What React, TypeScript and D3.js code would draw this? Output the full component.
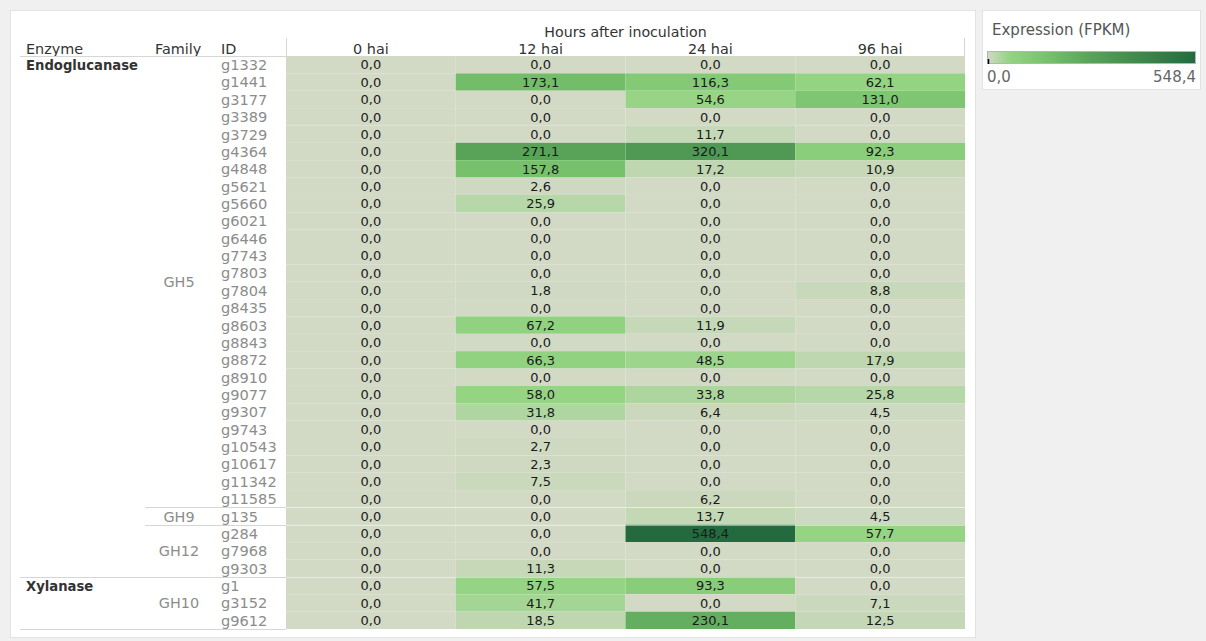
import React from "react";
import * as d3 from "d3";

// Expression table: enzymes → families → gene IDs, FPKM per time point
const timePoints = ["0 hai", "12 hai", "24 hai", "96 hai"];

const geneIds = [
  "g1332", "g1441", "g3177", "g3389", "g3729", "g4364", "g4848", "g5621", "g5660",
  "g6021", "g6446", "g7743", "g7803", "g7804", "g8435", "g8603", "g8843", "g8872",
  "g8910", "g9077", "g9307", "g9743", "g10543", "g10617", "g11342", "g11585",
  "g135", "g284", "g7968", "g9303", "g1", "g3152", "g9612",
];

const families = [
  { name: "GH5", enzyme: "Endoglucanase", count: 26 },
  { name: "GH9", enzyme: "Endoglucanase", count: 1 },
  { name: "GH12", enzyme: "Endoglucanase", count: 3 },
  { name: "GH10", enzyme: "Xylanase", count: 3 },
];

const enzymes = [
  { name: "Endoglucanase", count: 30 },
  { name: "Xylanase", count: 3 },
];

const hai0 = [
  0, 0, 0, 0, 0, 0, 0, 0, 0, 0, 0, 0, 0, 0, 0, 0, 0,
  0, 0, 0, 0, 0, 0, 0, 0, 0, 0, 0, 0, 0, 0, 0, 0,
];
const hai12 = [
  0, 173.1, 0, 0, 0, 271.1, 157.8, 2.6, 25.9, 0, 0, 0, 0, 1.8, 0, 67.2, 0,
  66.3, 0, 58.0, 31.8, 0, 2.7, 2.3, 7.5, 0, 0, 0, 0, 11.3, 57.5, 41.7, 18.5,
];
const hai24 = [
  0, 116.3, 54.6, 0, 11.7, 320.1, 17.2, 0, 0, 0, 0, 0, 0, 0, 0, 11.9, 0,
  48.5, 0, 33.8, 6.4, 0, 0, 0, 0, 6.2, 13.7, 548.4, 0, 0, 93.3, 0, 230.1,
];
const hai96 = [
  0, 62.1, 131.0, 0, 0, 92.3, 10.9, 0, 0, 0, 0, 0, 0, 8.8, 0, 0, 0,
  17.9, 0, 25.8, 4.5, 0, 0, 0, 0, 0, 4.5, 57.7, 0, 0, 0, 7.1, 12.5,
];
const series = [hai0, hai12, hai24, hai96];

const colorStops = [0, 57, 160, 275, 548.4];
const colorRange = ["#d2d9c5", "#94d483", "#76c16c", "#58a258", "#236b3f"];

const W = 1206;
const H = 641;
const FONT = "'DejaVu Sans', Verdana, sans-serif";

const locale = d3.formatLocale({ decimal: ",", thousands: ".", grouping: [3], currency: ["", ""] });
const fmt = locale.format(".1f");

export default function App() {
  const maxVal = d3.max(series.flat()) as number;
  const color = d3.scaleLinear<string>().domain(colorStops).range(colorRange).clamp(true);

  const x = d3.scaleBand().domain(timePoints).range([286, 965]);
  const y = d3.scaleBand().domain(geneIds).range([56, 629]);
  const rh = y.bandwidth();

  // group boundaries in row units
  const famBounds: { name: string; start: number; end: number }[] = [];
  let acc = 0;
  families.forEach((f) => {
    famBounds.push({ name: f.name, start: acc, end: acc + f.count });
    acc += f.count;
  });
  const enzBounds: { name: string; start: number; end: number }[] = [];
  acc = 0;
  enzymes.forEach((e) => {
    enzBounds.push({ name: e.name, start: acc, end: acc + e.count });
    acc += e.count;
  });
  const rowY = (i: number) => 56 + i * rh;

  const legendX = d3.scaleLinear().domain([0, maxVal]).range([987, 1196]);
  const gradStops = d3.range(0, 1.0001, 0.02).map((t) => ({ t, c: color(t * maxVal) }));

  return (
    <svg
      width={W}
      height={H}
      style={{ position: "absolute", left: 0, top: 0, display: "block" }}
      fontFamily={FONT}
    >
      <defs>
        <linearGradient id="legendGrad" x1="0" x2="1" y1="0" y2="0">
          {gradStops.map((s, i) => (
            <stop key={i} offset={s.t} stopColor={s.c} />
          ))}
        </linearGradient>
      </defs>
      <rect x={0} y={0} width={W} height={H} fill="#f0f0f0" />
      <rect x={10.5} y={10.5} width={965} height={627} fill="#ffffff" stroke="#e2e2e2" />

      {/* headers */}
      <text x={625.5} y={36.5} textAnchor="middle" fontSize={14.2} fill="#333">
        Hours after inoculation
      </text>
      {timePoints.map((t) => (
        <text key={t} x={(x(t) as number) + x.bandwidth() / 2} y={53.5} textAnchor="middle" fontSize={14.4} fill="#333">
          {t}
        </text>
      ))}
      <text x={26} y={53.5} fontSize={14.4} fill="#333">Enzyme</text>
      <text x={155} y={53.5} fontSize={14.4} fill="#333">Family</text>
      <text x={221} y={53.5} fontSize={14.4} fill="#333">ID</text>
      <line x1={286.5} x2={286.5} y1={38} y2={56} stroke="#d6d6d6" />
      <line x1={964.5} x2={964.5} y1={38} y2={56} stroke="#d6d6d6" />
      <line x1={20} x2={286} y1={56.5} y2={56.5} stroke="#d6d6d6" />

      {/* cells */}
      {series.map((vals, ci) =>
        vals.map((v, ri) => (
          <rect
            key={`c${ci}-${ri}`}
            x={x(timePoints[ci]) as number}
            y={y(geneIds[ri]) as number}
            width={x.bandwidth()}
            height={rh}
            fill={color(v)}
          />
        ))
      )}
      {series.map((vals, ci) =>
        vals.map((v, ri) => (
          <text
            key={`t${ci}-${ri}`}
            x={(x(timePoints[ci]) as number) + x.bandwidth() / 2}
            y={(y(geneIds[ri]) as number) + rh / 2 + 4.8}
            textAnchor="middle"
            fontSize={13}
            fill="#1a1a1a"
          >
            {fmt(v)}
          </text>
        ))
      )}

      {/* row labels */}
      {geneIds.map((g) => (
        <text key={g} x={221} y={(y(g) as number) + rh / 2 + 5.4} fontSize={14.6} fill="#8c8c8c">
          {g}
        </text>
      ))}
      {famBounds.map((f) => (
        <text
          key={f.name}
          x={179}
          y={rowY((f.start + f.end) / 2) + 5.4}
          textAnchor="middle"
          fontSize={14.4}
          fill="#8c8c8c"
        >
          {f.name}
        </text>
      ))}
      {enzBounds.map((e) => (
        <text key={e.name} x={26} y={rowY(e.start) + rh / 2 + 5.6} fontSize={13.2} fontWeight="bold" fill="#333">
          {e.name}
        </text>
      ))}

      {/* group dividers */}
      {famBounds.slice(0, -1).map((f) => {
        const isEnz = enzBounds.some((e) => e.end === f.end);
        const yy = Math.round(rowY(f.end)) + 0.5;
        return (
          <g key={`d${f.name}`}>
            <line x1={isEnz ? 20 : 145} x2={286} y1={yy} y2={yy} stroke="#d6d6d6" />
            <line x1={286} x2={965} y1={yy} y2={yy} stroke="#ffffff" strokeOpacity={0.45} />
          </g>
        );
      })}
      <line x1={20} x2={286} y1={629.5} y2={629.5} stroke="#d6d6d6" />

      {/* legend */}
      <rect x={982.5} y={10.5} width={218} height={79} fill="#ffffff" stroke="#e2e2e2" />
      <text x={992} y={34.5} fontSize={15} fill="#555">Expression (FPKM)</text>
      <rect x={987.5} y={51.5} width={208} height={12} fill="url(#legendGrad)" stroke="#b5b5b5" />
      <line x1={988.5} x2={988.5} y1={59} y2={64} stroke="#000" strokeWidth={1.5} />
      <text x={legendX(0)} y={82} fontSize={15} fill="#666">{fmt(0)}</text>
      <text x={legendX(maxVal)} y={82} textAnchor="end" fontSize={15} fill="#666">{fmt(maxVal)}</text>
    </svg>
  );
}
